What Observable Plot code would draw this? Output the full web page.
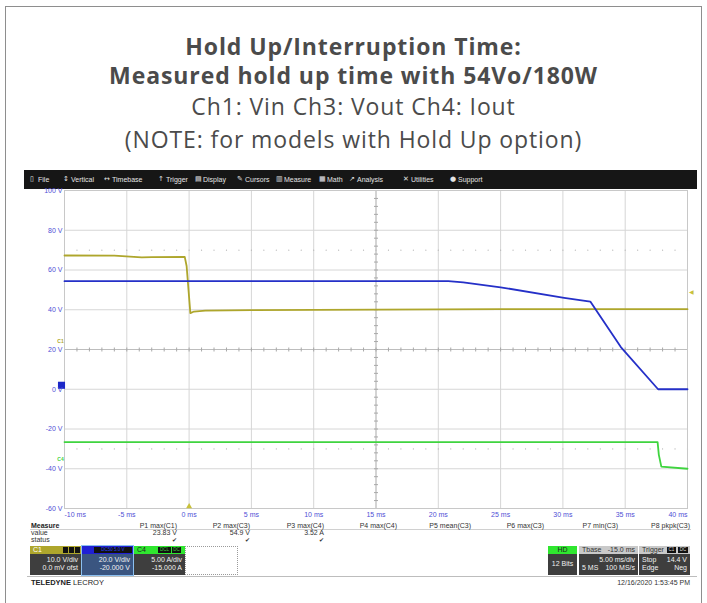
<!DOCTYPE html>
<html><head><meta charset="utf-8">
<script src="https://cdn.jsdelivr.net/npm/d3@7"></script>
<script src="https://cdn.jsdelivr.net/npm/@observablehq/plot@0.6"></script>
<style>
html,body{margin:0;padding:0;background:#fff;width:707px;height:603px;overflow:hidden;position:relative;}
#card{position:absolute;left:5px;top:6px;width:695px;height:640px;border:1px solid #8e8e8e;}
.t{position:absolute;left:0;width:707px;text-align:center;color:#4b4b4b;font-family:"Open Sans","Noto Sans",sans-serif;white-space:nowrap;line-height:28px;height:28px;font-size:23px;letter-spacing:0.9px;}
.s{font-family:"Liberation Sans Narrow","Liberation Sans",Arial,sans-serif;position:absolute;white-space:nowrap;}
#menu{position:absolute;left:24px;top:170px;width:673px;height:19px;background:#161616;}
.mi{position:absolute;top:0;line-height:19px;font-size:7px;color:#e4e4e4;font-family:"Liberation Sans",Arial,sans-serif;}
.ic{position:absolute;top:0;line-height:19px;font-size:7px;color:#e4e4e4;font-family:"DejaVu Sans",sans-serif;}
#chart{position:absolute;left:27px;top:189px;}
.m{font-size:7px;color:#333;top:522px;line-height:8px;}
.box{position:absolute;top:546px;height:29px;font-family:"Liberation Sans",Arial,sans-serif;font-size:7px;}
.hd{position:absolute;left:0;right:0;top:0;height:8px;line-height:8px;}
.bd{position:absolute;left:0;right:0;top:8px;bottom:0;background:#3e3e3e;color:#f2f2f2;}
.bd div{position:absolute;line-height:8px;}
.bdg{position:absolute;top:1px;height:6px;background:#111;color:#bbb;font-size:4.5px;line-height:6px;text-align:center;}
</style></head>
<body>
<div id="card"></div>
<div class="t" style="top:32px;font-weight:700;">Hold Up/Interruption Time:</div>
<div class="t" style="top:61px;font-weight:700;">Measured hold up time with 54Vo/180W</div>
<div class="t" style="top:92px;">Ch1: Vin Ch3: Vout Ch4: Iout</div>
<div class="t" style="top:125px;">(NOTE: for models with Hold Up option)</div>
<div id="menu"></div>
<div id="chart"></div>
<div id="bottom"></div>
<script>
// ---- data ----
const timeTicks = [-10, -5, 0, 5, 10, 15, 20, 25, 30, 35, 40];
const timeLabels = ["-10 ms", "-5 ms", "0 ms", "5 ms", "10 ms", "15 ms", "20 ms", "25 ms", "30 ms", "35 ms", "40 ms"];
const voltTicks = [-60, -40, -20, 0, 20, 40, 60, 80, 100];
const voltLabels = ["-60 V", "-40 V", "-20 V", "0 V", "20 V", "40 V", "60 V", "80 V", "100 V"];

// Ch1: Vin (yellow)
const ch1Time = [-10, -6, -3.8, -3.0, -0.35, -0.2, 0.1, 0.4, 1.3, 5, 15, 25, 40];
const ch1Volt = [67.3, 67.2, 66.4, 66.5, 66.6, 62.0, 38.3, 39.1, 39.6, 39.8, 40.1, 40.3, 40.3];
// Ch3: Vout (blue)
const ch3Time = [-10, 20.8, 22, 25, 30.1, 32.2, 34.65, 37.64, 40];
const ch3Volt = [54.4, 54.4, 53.8, 51.3, 46.0, 44.1, 21.2, 0.0, 0.0];
// Ch4: Iout (green)
const ch4Time = [-10, 37.6, 37.7, 37.9, 40];
const ch4Volt = [-26.6, -26.6, -33, -38.9, -40.0];

const menuItems = ["File", "Vertical", "Timebase", "Trigger", "Display", "Cursors", "Measure", "Math", "Analysis", "Utilities", "Support"];
const menuIcons = ["▯", "↕", "↔", "↑", "▤", "✎", "▥", "▦", "↗", "✕", "●"];

const measureNames = ["P1 max(C1)", "P2 max(C3)", "P3 max(C4)", "P4 max(C4)", "P5 mean(C3)", "P6 max(C3)", "P7 min(C3)", "P8 pkpk(C3)"];
const measureValues = ["23.83 V", "54.9 V", "3.52 A", "", "", "", "", ""];
const measureStatus = ["✔", "✔", "✔", "", "", "", "", ""];

// ---- colours ----
const cYellow = "#aea62c", cBlue = "#2530c8", cGreen = "#3fd43f", cAxis = "#4f4fd6";

// ---- menu bar ----
const menuText = [38, 71, 112, 166, 203, 245, 284, 327, 357, 411, 458];
const menu = document.getElementById("menu");
menuItems.forEach((m, i) => {
  const ic = document.createElement("span"); ic.className = "ic"; ic.textContent = menuIcons[i];
  ic.style.left = (menuText[i] - 24 - 8) + "px"; menu.appendChild(ic);
  const s = document.createElement("span"); s.className = "mi"; s.textContent = m;
  s.style.left = (menuText[i] - 24) + "px"; menu.appendChild(s);
});

// ---- chart ----
const rows = (T, V) => T.map((t, i) => ({t, v: V[i]}));
const minor = d3.range(-10, 40.001, 1);
const minorV = d3.range(-60, 100.001, 4);
const vTick = {draw(ctx, size) { const r = Math.sqrt(size / Math.PI); ctx.moveTo(0, -r); ctx.lineTo(0, r); }};
const hTick = {draw(ctx, size) { const r = Math.sqrt(size / Math.PI); ctx.moveTo(-r, 0); ctx.lineTo(r, 0); }};

const chart = Plot.plot({
  width: 670, height: 333,
  marginTop: 1, marginBottom: 14, marginLeft: 37, marginRight: 10,
  x: {domain: [-10, 40], axis: null},
  y: {domain: [-60, 100], axis: null},
  style: {background: "#fff", fontFamily: "Liberation Sans, Arial, sans-serif", fontSize: "7px", overflow: "visible"},
  marks: [
    Plot.ruleX(timeTicks, {stroke: "#d6d6d6"}),
    Plot.ruleY(voltTicks, {stroke: "#d6d6d6"}),
    Plot.dot(minor.flatMap(t => [{t, v: 70}, {t, v: -30}]), {x: "t", y: "v", r: 0.6, fill: "#b4b4b4"}),
    Plot.ruleX([15], {stroke: "#bdbdbd"}),
    Plot.ruleY([20], {stroke: "#bdbdbd"}),
    Plot.dot(minor, {x: d => d, y: () => 20, symbol: vTick, r: 2, stroke: "#a8a8a8", strokeWidth: 1}),
    Plot.dot(minorV, {x: () => 15, y: d => d, symbol: hTick, r: 2, stroke: "#a8a8a8", strokeWidth: 1}),
    Plot.frame({stroke: "#c8c8c8"}),
    Plot.line(rows(ch4Time, ch4Volt), {x: "t", y: "v", stroke: cGreen, strokeWidth: 1.8}),
    Plot.line(rows(ch1Time, ch1Volt), {x: "t", y: "v", stroke: cYellow, strokeWidth: 1.8}),
    Plot.line(rows(ch3Time, ch3Volt), {x: "t", y: "v", stroke: cBlue, strokeWidth: 1.8}),
    // channel markers
    Plot.text([{t: -10, v: 24}], {x: "t", y: "v", text: () => "C1", dx: -4, fill: cYellow, fontSize: 5, fontWeight: "bold"}),
    Plot.dot([{t: -10, v: 2}], {x: "t", y: "v", symbol: "square", r: 4, fill: "#1c28c8", dx: -3}),
    Plot.text([{t: -10, v: -35.5}], {x: "t", y: "v", text: () => "C4", dx: -4, fill: cGreen, fontSize: 5, fontWeight: "bold"}),
    Plot.dot([{t: 0, v: -60}], {x: "t", y: "v", symbol: "triangle", r: 2.2, fill: "#c9c13a", dy: -2}),
    Plot.text([{t: 40, v: 49}], {x: "t", y: "v", text: () => "◀", dx: 4, fill: "#c9c13a", fontSize: 6}),
    // axis labels
    Plot.text(voltTicks, {x: () => -10, y: d => d, text: (d, i) => voltLabels[i], textAnchor: "end", dx: -2, fill: cAxis, fontSize: 7}),
    Plot.text(timeTicks.slice(1, -1), {x: d => d, y: () => -60, text: (d, i) => timeLabels[i + 1], dy: 6, fill: cAxis, fontSize: 7}),
    Plot.text([timeTicks[0]], {x: d => d, y: () => -60, text: () => timeLabels[0], dy: 6, textAnchor: "start", fill: cAxis, fontSize: 7}),
    Plot.text([timeTicks[timeTicks.length - 1]], {x: d => d, y: () => -60, text: () => timeLabels[timeLabels.length - 1], dy: 6, textAnchor: "end", fill: cAxis, fontSize: 7})
  ]
});
document.getElementById("chart").appendChild(chart);

// ---- bottom info panel ----
const B = document.getElementById("bottom");
function add(html, cls, style) { const d = document.createElement("div"); d.className = cls; d.innerHTML = html; Object.assign(d.style, style); B.appendChild(d); return d; }
const colRight = [177, 250, 324, 397, 471, 544, 618, 690];
add("Measure", "s m", {left: "31px", top: "522px", fontWeight: "bold", color: "#222"});
add("value", "s m", {left: "31px", top: "529px"});
add("status", "s m", {left: "31px", top: "536px"});
add("", "s", {left: "30px", top: "529px", width: "661px", height: "0", borderTop: "1px solid #d0d0d0"});
measureNames.forEach((n, i) => {
  add(n, "s m", {right: (707 - colRight[i]) + "px", top: "522px"});
  if (measureValues[i]) add(measureValues[i], "s m", {right: (707 - colRight[i]) + "px", top: "529px"});
  if (measureStatus[i]) add(measureStatus[i], "s m", {right: (707 - colRight[i]) + "px", top: "536px", fontFamily: "DejaVu Sans", fontSize: "6px"});
});
function box(left, width, hdBg, hdColor, hdLeft, hdRight, badges, bodyBg, lines, extra) {
  const b = add("", "box", Object.assign({left: left + "px", width: width + "px"}, extra || {}));
  b.innerHTML = `<div class="hd" style="background:${hdBg};color:${hdColor}"><span style="position:absolute;left:3px">${hdLeft}</span><span style="position:absolute;right:3px">${hdRight}</span></div>` +
    `<div class="bd" style="background:${bodyBg}">${lines.map(l => `<div style="left:3px;top:${l[0]}px">${l[1]}</div><div style="right:3px;top:${l[0]}px">${l[2]}</div>`).join("")}</div>`;
  badges.forEach(bg => { const e = document.createElement("div"); e.className = "bdg"; e.textContent = bg[2]; Object.assign(e.style, {left: bg[0] + "px", width: bg[1] + "px", color: bg[3]}); b.appendChild(e); });
}
box(30, 51, cYellow, "#fff", "C1", "", [[33, 5, "", "#ccc"], [39, 5, "", "#ccc"], [45, 5, "", "#ccc"]], "#3e3e3e", [[2, "", "10.0 V/div"], [10, "", "0.0 mV ofst"]]);
box(82, 51, "#2020d4", "#fff", "", "", [[12, 38, "DC50 5.0 V", "#2a3cff"]], "#3a5580", [[2, "", "20.0 V/div"], [10, "", "-20.000 V"]], {outline: "1px solid #8cc0f0"});
box(134, 51, "#2fe62f", "#222", "C4", "", [[24, 13, "DCL", "#3fd43f"], [38, 9, "DC", "#3fd43f"]], "#3e3e3e", [[2, "", "5.00 A/div"], [10, "", "-15.000 A"]]);
add("", "s", {left: "185px", top: "546px", width: "51px", height: "27px", border: "1px dotted #9a9a9a"});
box(548, 29, "#2fe62f", "#222", "", "", [], "#3e3e3e", [[6, "", ""]]);
add("HD", "s", {left: "548px", top: "546px", width: "29px", textAlign: "center", fontSize: "7px", lineHeight: "8px", color: "#222", fontFamily: "Liberation Sans"});
add("12 Bits", "s", {left: "548px", top: "560px", width: "29px", textAlign: "center", fontSize: "7px", lineHeight: "8px", color: "#eee", fontFamily: "Liberation Sans"});
box(579, 59, "#c9c9c9", "#333", "Tbase", "-15.0 ms", [], "#3e3e3e", [[2, "", "5.00 ms/div"], [10, "5 MS", "100 MS/s"]]);
box(639, 51, "#c9c9c9", "#333", "Trigger", "", [[28, 9, "C1", "#ddd"], [39, 10, "DC", "#ddd"]], "#3e3e3e", [[2, "Stop", "14.4 V"], [10, "Edge", "Neg"]]);
add("", "s", {left: "27px", top: "576px", width: "670px", height: "0", borderTop: "1px solid #bdbdbd"});
add("<b>TELEDYNE</b> LECROY", "s", {left: "31px", top: "578px", fontSize: "7.5px", lineHeight: "9px", color: "#222", fontFamily: "Liberation Sans"});
add("12/16/2020 1:53:45 PM", "s", {right: "17px", top: "578px", fontSize: "7px", lineHeight: "9px", color: "#333"});
</script>
</body></html>
